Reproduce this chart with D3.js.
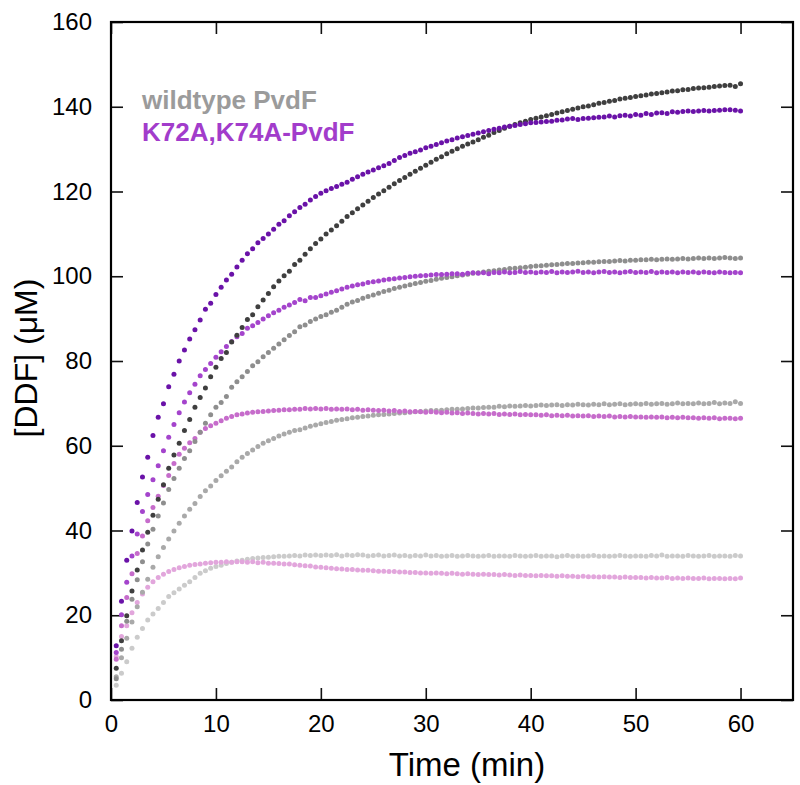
<!DOCTYPE html>
<html><head><meta charset="utf-8">
<script src="https://cdn.jsdelivr.net/npm/d3@7"></script>
<style>body{margin:0;background:#fff} text{font-family:"Liberation Sans",Arial,Helvetica,sans-serif}</style>
</head><body><svg id="c" width="800" height="785"></svg>
<script>
const time = [0.5,1,1.5,2,2.5,3,3.5,4,4.5,5,5.5,6,6.5,7,7.5,8,8.5,9,9.5,10,
10.5,11,11.5,12,12.5,13,13.5,14,14.5,15,15.5,16,16.5,17,17.5,18,18.5,19,19.5,20,
20.5,21,21.5,22,22.5,23,23.5,24,24.5,25,25.5,26,26.5,27,27.5,28,28.5,29,29.5,30,
30.5,31,31.5,32,32.5,33,33.5,34,34.5,35,35.5,36,36.5,37,37.5,38,38.5,39,39.5,40,
40.5,41,41.5,42,42.5,43,43.5,44,44.5,45,45.5,46,46.5,47,47.5,48,48.5,49,49.5,50,
50.5,51,51.5,52,52.5,53,53.5,54,54.5,55,55.5,56,56.5,57,57.5,58,58.5,59,59.5,60];

const wtHigh = [7.5,14.0,19.9,25.7,30.7,35.4,39.6,43.6,47.4,50.8,
54.7,57.8,60.6,63.6,66.2,69.1,71.4,73.6,76.3,78.5,
80.6,82.0,84.5,86.1,87.9,89.8,90.9,92.8,94.4,95.9,
97.5,98.9,100.1,101.2,102.8,103.8,105.2,106.5,107.7,108.8,
110.0,110.9,111.9,113.0,114.1,115.0,115.9,116.8,117.7,118.6,
119.4,120.2,121.0,121.8,122.6,123.3,124.1,124.8,125.5,126.2,
126.9,127.6,128.2,128.9,129.5,130.1,130.7,131.2,131.7,132.2,
132.8,133.3,133.9,134.4,134.9,135.4,135.8,136.2,136.6,137.0,
137.3,137.6,137.9,138.2,138.5,138.8,139.1,139.4,139.7,140.0,
140.2,140.5,140.8,141.0,141.3,141.5,141.8,142.0,142.2,142.4,
142.6,142.8,143.0,143.1,143.3,143.5,143.7,143.8,144.0,144.1,
144.3,144.4,144.5,144.6,144.8,144.9,145.0,145.1,144.8,145.4];

const mutHigh = [12.8,23.3,33.0,39.9,46.6,52.6,57.3,62.4,66.7,69.9,
73.9,76.9,80.0,82.6,85.2,87.4,89.7,92.2,93.6,95.7,
97.4,99.1,100.5,102.2,103.8,105.3,106.5,107.9,108.9,110.0,
111.1,112.3,113.1,114.3,115.2,116.2,117.0,118.0,118.8,119.6,
120.2,120.7,121.2,121.7,122.2,122.9,123.5,124.1,124.6,125.1,
125.6,126.1,126.6,127.3,128.0,128.5,129.0,129.4,129.8,130.3,
130.7,131.1,131.5,131.9,132.2,132.6,132.9,133.2,133.5,133.8,
134.1,134.4,134.7,134.9,135.2,135.4,135.6,135.8,136.0,136.2,
136.3,136.4,136.5,136.6,136.8,136.9,137.1,137.2,137.0,137.2,
137.3,137.4,137.5,137.6,137.8,137.6,137.9,138.0,137.8,138.2,
138.0,138.4,138.2,138.5,138.6,138.4,138.8,138.7,138.9,139.0,
138.9,139.0,139.1,139.0,139.1,139.2,139.3,139.3,139.2,139.0];

const wtMid = [5.0,12.0,18.6,23.8,28.4,32.6,36.8,40.3,43.4,46.5,
49.7,52.3,54.7,57.0,58.8,61.0,63.2,65.3,67.3,69.1,
70.2,71.6,73.8,75.1,76.3,77.5,78.9,79.8,81.0,82.0,
83.0,84.0,85.0,86.0,86.9,88.1,88.5,89.3,89.9,90.5,
90.9,91.5,92.0,92.7,93.4,93.9,94.3,94.8,95.2,95.6,
96.0,96.4,96.7,97.1,97.4,97.7,98.0,98.3,98.5,98.8,
99.0,99.3,99.5,99.7,99.9,100.1,100.3,100.5,100.7,100.8,
101.0,101.2,101.3,101.5,101.6,101.8,101.9,102.0,102.1,102.3,
102.4,102.5,102.6,102.7,102.8,102.9,103.0,103.0,103.1,103.2,
103.3,103.3,103.4,103.5,103.5,103.6,103.7,103.6,103.8,103.8,
103.9,103.9,104.0,103.9,104.0,104.1,104.0,104.1,104.2,104.1,
104.2,104.3,104.2,104.3,104.2,104.3,104.4,104.3,104.2,104.3];

const mutMid = [11.2,20.1,27.8,34.0,39.2,44.5,48.5,52.0,55.3,58.8,
62.0,65.0,67.8,70.3,72.5,74.5,76.5,78.0,79.4,80.9,
82.2,83.4,84.6,85.7,86.5,87.7,88.3,89.1,89.9,90.7,
91.4,92.0,92.7,93.2,93.8,94.5,94.2,95.0,95.0,95.4,
95.8,96.2,96.6,97.0,97.4,97.7,98.0,98.2,98.5,98.7,
98.9,99.1,99.3,99.4,99.6,99.7,99.9,100.0,100.1,100.2,
100.3,100.4,100.4,100.5,100.6,100.6,100.5,100.7,100.8,100.7,
100.8,100.6,100.9,100.8,101.0,100.8,100.9,101.1,100.9,101.0,
100.8,101.0,100.9,101.1,100.8,101.0,100.9,101.0,101.2,100.9,
101.0,100.8,101.0,101.1,100.9,101.0,100.8,101.0,101.1,100.9,
101.0,100.9,101.1,100.8,101.0,100.9,101.0,100.8,101.0,100.9,
101.0,100.8,101.0,100.9,100.8,101.0,100.9,100.8,100.9,100.8];

const wtLow = [5.5,10.0,14.6,18.4,22.0,25.4,28.5,31.3,33.8,36.0,
38.0,39.9,41.7,43.4,45.0,46.4,48.0,49.4,50.5,51.8,
52.9,54.0,55.0,56.2,57.3,58.2,59.0,59.8,60.6,61.2,
61.7,62.3,62.8,63.2,63.6,63.8,64.2,64.6,64.9,65.2,
65.5,65.7,66.0,66.2,66.4,66.6,66.7,66.9,67.0,67.2,
67.3,67.4,67.5,67.6,67.7,67.8,67.9,68.0,68.1,68.2,
68.3,68.3,68.4,68.5,68.6,68.6,68.7,68.8,68.9,68.9,
69.0,69.1,69.1,69.3,69.2,69.4,69.3,69.4,69.5,69.4,
69.5,69.6,69.5,69.6,69.7,69.5,69.7,69.6,69.8,69.7,
69.6,69.8,69.7,69.9,69.7,69.8,69.9,69.7,69.8,69.9,
69.8,70.0,69.8,69.9,70.0,69.8,69.9,70.1,69.9,70.0,
69.9,70.1,69.9,70.0,70.2,69.9,70.1,70.0,70.4,70.0];

const mutLow = [9.6,17.5,24.2,29.8,34.6,38.7,42.3,45.4,48.1,50.6,
53.0,55.8,58.0,59.4,60.7,61.7,63.2,64.1,64.7,65.3,
65.9,66.5,66.9,67.3,67.5,67.7,67.9,68.0,68.1,68.2,
68.3,68.4,68.5,68.5,68.6,68.6,68.8,68.7,68.8,68.7,
68.8,68.6,68.7,68.6,68.7,68.5,68.6,68.4,68.5,68.4,
68.3,68.4,68.2,68.3,68.1,68.2,68.0,68.1,68.0,67.9,
68.0,67.9,67.8,67.9,67.7,67.8,67.6,67.7,67.6,67.5,
67.6,67.5,67.6,67.4,67.5,67.4,67.5,67.3,67.4,67.3,
67.3,67.2,67.3,67.1,67.2,67.1,67.2,67.0,67.1,67.0,
67.1,66.9,67.0,66.9,67.0,66.8,66.9,66.8,66.9,66.8,
66.8,66.7,66.8,66.7,66.8,66.6,66.7,66.6,66.7,66.6,
66.6,66.5,66.6,66.5,66.6,66.4,66.5,66.5,66.4,66.5];

const wtLowest = [3.5,6.3,9.0,12.2,14.8,16.9,18.9,20.3,21.6,23.0,
24.4,25.3,26.2,27.1,27.9,28.9,29.9,30.5,31.1,31.5,
31.8,32.2,32.5,32.8,33.0,33.2,33.4,33.5,33.6,33.7,
33.8,33.9,33.9,34.0,34.1,34.0,34.2,34.1,34.2,34.1,
34.2,34.1,34.3,34.0,34.2,34.1,34.3,34.2,34.0,34.1,
34.2,34.0,34.1,34.2,34.0,34.1,33.9,34.1,34.0,34.2,
34.0,34.1,33.9,34.0,34.1,33.9,34.0,34.1,34.0,33.9,
34.0,34.1,33.9,34.0,34.0,33.9,34.1,34.0,33.9,34.0,
34.1,33.9,34.0,34.0,33.8,34.0,34.1,33.9,34.0,33.9,
34.0,34.1,33.9,34.0,33.9,34.0,34.1,34.0,33.9,34.0,
34.0,33.9,34.1,34.0,34.2,33.9,34.0,34.0,33.9,34.1,
34.0,33.9,34.0,34.1,33.9,34.0,34.0,33.9,34.1,34.0];

const mutLowest = [10.2,15.0,17.5,20.6,23.0,25.0,26.6,27.9,28.9,29.7,
30.3,30.8,31.2,31.5,31.8,32.0,32.1,32.3,32.4,32.5,
32.5,32.6,32.5,32.6,32.6,32.5,32.6,32.4,32.5,32.3,
32.3,32.2,32.1,32.1,31.9,31.8,31.7,31.6,31.4,31.3,
31.2,31.1,31.0,30.9,30.8,30.8,30.7,30.6,30.6,30.5,
30.4,30.4,30.3,30.3,30.2,30.2,30.1,30.1,30.0,30.0,
29.9,30.0,29.9,29.8,29.9,29.8,29.7,29.8,29.7,29.6,
29.7,29.6,29.6,29.5,29.6,29.5,29.4,29.5,29.4,29.4,
29.3,29.4,29.3,29.3,29.2,29.3,29.2,29.2,29.1,29.2,
29.1,29.1,29.0,29.1,29.0,29.0,28.9,29.0,28.9,28.9,
28.9,28.8,28.9,28.8,28.8,28.9,28.7,28.8,28.7,28.8,
28.7,28.7,28.8,28.6,28.7,28.7,28.6,28.7,28.6,28.8];

const xTicks = [0,10,20,30,40,50,60];
const yTicks = [0,20,40,60,80,100,120,140,160];
const legendLabels = ["wildtype PvdF","K72A,K74A-PvdF"];

const series = [
  {v: wtLowest, c: "#cbcbcb"},
  {v: mutLowest, c: "#e2a6dc"},
  {v: wtLow, c: "#a9a9a9"},
  {v: mutLow, c: "#c66ccb"},
  {v: wtMid, c: "#8e8e8e"},
  {v: mutMid, c: "#a444cc"},
  {v: wtHigh, c: "#3f3f3f"},
  {v: mutHigh, c: "#6a12a8"}
];

const svg = d3.select("#c");
const xS = d3.scaleLinear().domain([0,65]).range([111,793]);
const yS = d3.scaleLinear().domain([0,160]).range([700,22]);

const gBottom = svg.append("g").attr("transform","translate(0,700)")
  .call(d3.axisBottom(xS).tickValues(xTicks).tickSize(-12).tickPadding(15).tickFormat(d3.format("d")));
const gTop = svg.append("g").attr("transform","translate(0,22)")
  .call(d3.axisTop(xS).tickValues(xTicks).tickSize(-12).tickFormat(""));
const gLeft = svg.append("g").attr("transform","translate(111,0)")
  .call(d3.axisLeft(yS).tickValues(yTicks).tickSize(-12).tickPadding(19).tickFormat(d3.format("d")));
const gRight = svg.append("g").attr("transform","translate(793,0)")
  .call(d3.axisRight(yS).tickValues(yTicks).tickSize(-12).tickFormat(""));
[gBottom,gTop,gLeft,gRight].forEach(g=>{
  g.select(".domain").remove();
  g.selectAll("line").attr("stroke","#111").attr("stroke-width",1.6);
  g.selectAll("text").attr("font-size",24).attr("fill","#000")
    .attr("font-family","'Liberation Sans',Arial,sans-serif");
});
gBottom.selectAll("text").attr("dy",null).attr("y",32);
gLeft.selectAll("text").attr("dy","0.32em");

svg.append("rect").attr("x",xS(0)).attr("y",yS(160)).attr("width",xS(65)-xS(0)).attr("height",yS(0)-yS(160))
  .attr("fill","none").attr("stroke","#000").attr("stroke-width",2.2);

series.forEach(s=>{
  svg.append("g").selectAll("circle").data(s.v).join("circle")
    .attr("cx",(d,i)=>xS(time[i])).attr("cy",d=>yS(d)).attr("r",2.5).attr("fill",s.c);
});

svg.append("text").attr("x",142).attr("y",109).attr("font-size",26).attr("font-weight","bold")
  .attr("fill","#9b9b9b").text(legendLabels[0]);
svg.append("text").attr("x",142).attr("y",141).attr("font-size",26).attr("font-weight","bold")
  .attr("fill","#a23ccb").text(legendLabels[1]);

svg.append("text").attr("x",467).attr("y",776).attr("text-anchor","middle").attr("font-size",33)
  .attr("fill","#000").text("Time (min)");
svg.append("text").attr("transform","translate(37,358) rotate(-90)").attr("text-anchor","middle")
  .attr("font-size",32).attr("fill","#000").text("[DDF] (μM)");
</script></body></html>
